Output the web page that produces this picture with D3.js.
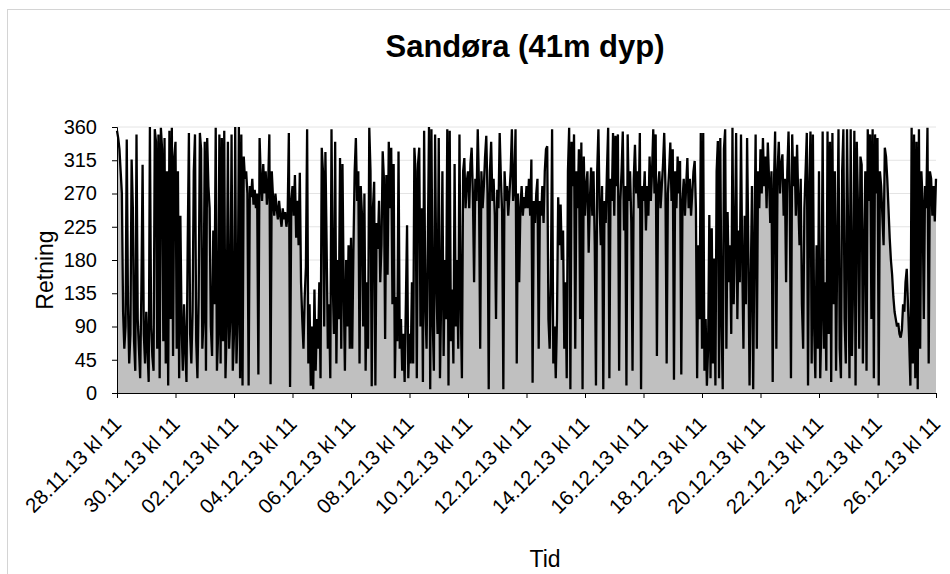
<!DOCTYPE html>
<html>
<head>
<meta charset="utf-8">
<script src="https://cdn.jsdelivr.net/npm/d3@7"></script>
<style>
  body { margin: 0; background: #fff; }
  text { font-family: "Liberation Sans", Arial, sans-serif; fill: #000; }
</style>
</head>
<body>
<svg id="canvas" width="950" height="574"></svg>
<script>
// hourly readings of current direction, first value 28.11.13 kl 11
const startTime = new Date(2013, 10, 28, 11);
const endTime = new Date(2013, 11, 26, 11);

const retning_2811 = [355,345,330,300,270,110,60,90,343,120,40,80,316,250,70,30,350,100,60,20,140,309,80,40,
  110,60,15,360,90,50,30,357,340,60,350,20,359,330,70,345,40,300,10,355,100,359,50,320];
const retning_3011 = [340,60,300,20,240,90,30,120,60,15,200,352,80,40,110,300,350,70,20,130,352,330,60,100,
  340,30,345,280,250,90,50,220,120,359,30,80,350,40,345,70,355,20,90,340,60,100,350,30];
const retning_0212 = [80,360,40,100,360,20,350,10,320,290,300,270,10,280,265,290,255,275,250,270,25,345,290,260,
  310,270,300,255,280,350,12,300,265,240,270,250,235,260,240,225,250,235,245,225,240,352,8,260];
const retning_0412 = [280,240,295,210,260,200,298,150,100,60,130,170,357,40,120,10,90,5,140,30,100,60,150,20,
  332,300,90,326,200,60,120,20,357,150,80,340,40,180,100,318,60,310,140,30,180,90,200,60];
const retning_0612 = [210,60,195,300,345,260,300,40,280,241,90,270,30,150,60,359,300,9,250,286,10,230,195,260,
  150,200,327,290,73,295,160,340,250,332,120,310,20,130,70,327,60,100,30,80,15,120,227,20];
const retning_0812 = [80,40,150,40,332,300,20,310,332,90,250,15,355,120,60,200,360,5,357,100,30,350,150,80,
  345,20,130,300,50,180,100,357,10,355,70,140,40,310,90,180,60,350,120,20,300,318,250,286];
const retning_1012 = [300,250,310,332,270,150,290,260,357,280,60,300,250,280,320,348,270,5,300,340,260,290,240,100,
  275,250,352,290,245,5,300,260,280,240,270,300,357,260,280,357,40,270,150,250,280,240,265,250];
const retning_1212 = [280,250,290,240,316,14,260,230,270,290,60,260,240,280,230,300,330,334,100,60,150,357,40,90,
  20,100,265,200,255,180,220,60,150,20,300,359,5,340,280,350,60,300,250,330,100,339,5,320];
const retning_1412 = [240,280,300,190,260,305,240,300,200,10,300,357,250,200,280,5,260,230,300,359,20,290,260,352,
  240,348,280,350,30,260,300,354,220,280,10,350,260,300,230,30,290,336,270,300,250,352,5,280];
const retning_1612 = [260,300,220,280,240,320,260,300,357,270,350,50,280,300,250,280,309,352,280,40,270,300,339,260,
  330,18,300,250,320,270,314,25,260,290,240,280,318,250,290,240,270,300,314,250,20,200,100,352];
const retning_1812 = [60,352,30,100,10,60,241,20,223,40,182,10,300,341,20,345,100,5,330,357,60,245,150,200,
  80,359,120,200,352,100,220,150,350,180,60,240,120,345,200,10,150,280,5,200,350,60,300,250];
const retning_2012 = [330,270,345,280,320,250,339,290,230,300,15,280,354,60,300,340,270,310,323,240,290,150,300,354,
  270,20,350,280,320,240,336,260,200,290,120,60,250,300,352,10,280,354,40,350,90,20,200,60];
const retning_2212 = [300,20,100,354,60,150,30,354,80,340,15,352,120,300,30,200,357,60,20,300,357,100,40,357,
  200,20,357,50,150,355,10,340,250,60,320,309,40,200,300,30,357,260,350,100,357,20,350,270];
const retning_2412 = [345,10,300,280,240,200,332,320,290,250,210,180,160,130,110,100,90,95,80,75,85,120,110,150,
  168,120,70,10,359,40,350,20,340,5,357,60,300,260,100,280,250,359,40,300,290,240,280,232,290];

const retning = [].concat(retning_2811, retning_3011, retning_0212, retning_0412, retning_0612,
  retning_0812, retning_1012, retning_1212, retning_1412, retning_1612, retning_1812,
  retning_2012, retning_2212, retning_2412);

const yTicks = [0, 45, 90, 135, 180, 225, 270, 315, 360];
const xTickLabels = ["28.11.13 kl 11", "30.11.13 kl 11", "02.12.13 kl 11", "04.12.13 kl 11",
  "06.12.13 kl 11", "08.12.13 kl 11", "10.12.13 kl 11", "12.12.13 kl 11", "14.12.13 kl 11",
  "16.12.13 kl 11", "18.12.13 kl 11", "20.12.13 kl 11", "22.12.13 kl 11", "24.12.13 kl 11",
  "26.12.13 kl 11"];

const data = retning.map((v, i) => ({ t: d3.timeHour.offset(startTime, i), v: v }));

let canvas = d3.select("#canvas");

// chart border
canvas.append("rect")
  .attr("x", 7.5).attr("y", 9.5)
  .attr("width", 1000).attr("height", 600)
  .attr("fill", "none").attr("stroke", "#d4d4d4");

let x = d3.scaleTime().domain([startTime, endTime]).range([117, 936]);
let y = d3.scaleLinear().domain([0, 360]).range([393, 127]);

// grid
canvas.append("g")
  .selectAll("line")
  .data(yTicks.slice(1))
  .enter()
  .append("line")
  .attr("x1", x.range()[0]).attr("x2", x.range()[1])
  .attr("y1", d => y(d)).attr("y2", d => y(d))
  .attr("stroke", "#e4e4e4");

let area = d3.area()
  .x(d => x(d.t))
  .y0(y(0))
  .y1(d => y(d.v));

let line = d3.line()
  .x(d => x(d.t))
  .y(d => y(d.v));

canvas.append("path")
  .datum(data)
  .attr("d", area)
  .attr("fill", "#c0c0c0");

canvas.append("path")
  .datum(data)
  .attr("d", line)
  .attr("fill", "none")
  .attr("stroke", "#000")
  .attr("stroke-width", 2.3)
  .attr("stroke-linejoin", "bevel");

// y axis
let yAxis = canvas.append("g")
  .attr("transform", `translate(${x.range()[0]},0)`)
  .call(d3.axisLeft(y).tickValues(yTicks).tickSize(5).tickPadding(15));
yAxis.select(".domain").attr("stroke", "#000");
yAxis.selectAll(".tick text").attr("font-size", 20).style("font-family", "Liberation Sans, Arial, sans-serif");

// x axis
let xTicks = xTickLabels.map((d, i) => d3.timeDay.offset(startTime, i * 2));
let xAxis = canvas.append("g")
  .attr("transform", `translate(0,${y(0)})`)
  .call(d3.axisBottom(x).tickValues(xTicks).tickSize(5).tickFormat((d, i) => xTickLabels[i]));
xAxis.select(".domain").attr("stroke", "#000");
xAxis.selectAll(".tick text")
  .attr("font-size", 20.5)
  .style("font-family", "Liberation Sans, Arial, sans-serif")
  .attr("text-anchor", "end")
  .attr("transform", "translate(0,27) rotate(-45)")
  .attr("dy", "0.35em")
  .attr("y", 0)
  .attr("x", 0);

// titles
canvas.append("text")
  .attr("x", 525).attr("y", 57)
  .attr("text-anchor", "middle")
  .attr("font-size", 31)
  .attr("font-weight", "bold")
  .text("Sandøra (41m dyp)");

canvas.append("text")
  .attr("transform", "translate(53,270) rotate(-90)")
  .attr("text-anchor", "middle")
  .attr("font-size", 23)
  .text("Retning");

canvas.append("text")
  .attr("x", 545).attr("y", 567)
  .attr("text-anchor", "middle")
  .attr("font-size", 23)
  .text("Tid");
</script>
</body>
</html>
